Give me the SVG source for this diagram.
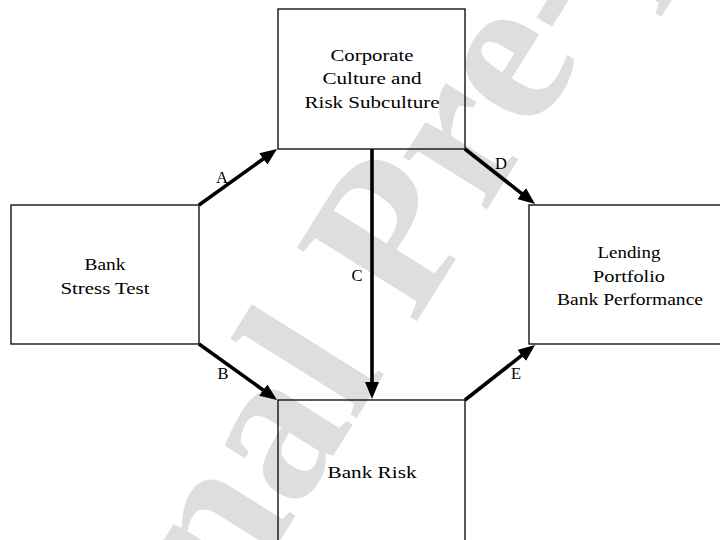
<svg xmlns="http://www.w3.org/2000/svg" width="720" height="540" viewBox="0 0 720 540">
<style>
.box{fill:none;stroke:#000;stroke-width:1.3}
.t{font-family:'Liberation Serif','Times New Roman',serif;font-size:16.5px;fill:#000;text-anchor:middle}
.conn{stroke:#000;stroke-width:3.6;fill:none;marker-end:url(#ah)}
.wm{font-family:'Liberation Serif','Times New Roman',serif;font-weight:bold;font-size:215px;fill:#dedede}
</style>
<defs>
<marker id="ah" markerUnits="userSpaceOnUse" markerWidth="17" markerHeight="14" refX="5" refY="7" orient="auto">
<path d="M0,0 L17,7 L0,14 z" fill="#000"/>
</marker>
</defs>
<rect width="720" height="540" fill="#fff"/>
<g id="watermark" transform="translate(414,326) rotate(-58)">
<text class="wm" x="-770">Journal Pre-proof</text>
</g>
<g id="connectors">
<line class="conn" x1="199" y1="205" x2="267.3" y2="156"/>
<line class="conn" x1="199" y1="344" x2="267.3" y2="393"/>
<line class="conn" x1="372" y1="149" x2="372" y2="387"/>
<line class="conn" x1="465" y1="149" x2="525.6" y2="196.6"/>
<line class="conn" x1="465" y1="400" x2="525.6" y2="352.4"/>
<text class="t" x="222" y="182.5">A</text>
<text class="t" x="223" y="378.5">B</text>
<text class="t" x="357" y="280.5">C</text>
<text class="t" x="501" y="168.5">D</text>
<text class="t" x="516" y="378.5">E</text>
</g>
<g id="culture">
<rect class="box" x="278" y="9" width="187" height="140"/>
<text class="t" x="372" y="60.5" textLength="83" lengthAdjust="spacingAndGlyphs">Corporate</text>
<text class="t" x="372" y="84" textLength="99" lengthAdjust="spacingAndGlyphs">Culture and</text>
<text class="t" x="372" y="107.5" textLength="135" lengthAdjust="spacingAndGlyphs">Risk Subculture</text>
</g>
<g id="stress">
<rect class="box" x="11" y="205" width="188" height="139"/>
<text class="t" x="105" y="270" textLength="41" lengthAdjust="spacingAndGlyphs">Bank</text>
<text class="t" x="105" y="293.5" textLength="89" lengthAdjust="spacingAndGlyphs">Stress Test</text>
</g>
<g id="lending">
<rect class="box" x="529" y="205" width="200" height="139"/>
<text class="t" x="629" y="258" textLength="63" lengthAdjust="spacingAndGlyphs">Lending</text>
<text class="t" x="629" y="281.5" textLength="72" lengthAdjust="spacingAndGlyphs">Portfolio</text>
<text class="t" x="630" y="305" textLength="146" lengthAdjust="spacingAndGlyphs">Bank Performance</text>
</g>
<g id="risk">
<rect class="box" x="278" y="400" width="187" height="150"/>
<text class="t" x="372" y="478" textLength="89" lengthAdjust="spacingAndGlyphs">Bank Risk</text>
</g>
</svg>
